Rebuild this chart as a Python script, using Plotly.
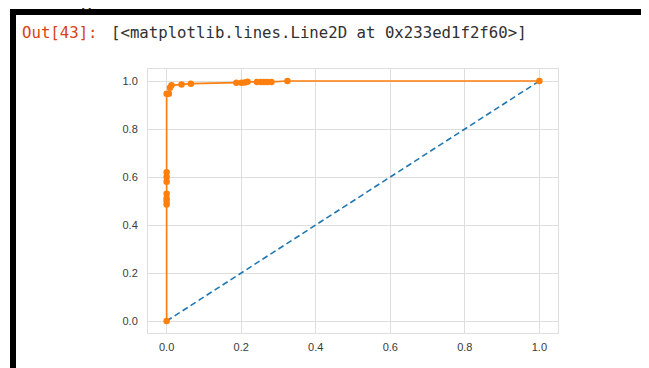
import plotly.graph_objects as go

# ROC curve data
fpr = [0.0, 0.0, 0.0, 0.0, 0.0, 0.0, 0.0, 0.0, 0.0, 0.006, 0.009, 0.013, 0.04, 0.065,
       0.187, 0.201, 0.21, 0.217, 0.242, 0.253, 0.261, 0.27, 0.281, 0.324, 1.0]
tpr = [0.0, 0.485, 0.50, 0.51, 0.53, 0.58, 0.60, 0.62, 0.947, 0.947, 0.972, 0.982, 0.985, 0.989,
       0.993, 0.993, 0.994, 0.997, 0.996, 0.996, 0.996, 0.996, 0.996, 1.0, 1.0]
diag = [0.0, 1.0]
tick_vals = [0.0, 0.2, 0.4, 0.6, 0.8, 1.0]
tick_text = ["0.0", "0.2", "0.4", "0.6", "0.8", "1.0"]
out_prompt = "Out[43]:"
out_text = "[<matplotlib.lines.Line2D at 0x233ed1f2f60>]"

W, H = 649, 368
OFF = 8  # page body margin of the browser
L, R, T, B = 148 - OFF, 558 - OFF, 69 - OFF, 333 - OFF  # plot area in figure pixels


def px(x):
    return (x - OFF - L) / (R - L)


def py(y):
    return (B - (y - OFF)) / (B - T)


fig = go.Figure()
fig.add_trace(go.Scatter(x=diag, y=diag, mode="lines",
                         line=dict(color="#1f77b4", width=1.6, dash="6px,3.5px"),
                         showlegend=False, hoverinfo="skip"))
fig.add_trace(go.Scatter(x=fpr, y=tpr, mode="lines+markers",
                         line=dict(color="#ff7f0e", width=1.7),
                         marker=dict(color="#ff7f0e", size=6.5),
                         showlegend=False))

grid = "#dedede"
axis_common = dict(tickvals=tick_vals, ticktext=tick_text, range=[-0.05, 1.05],
                   showgrid=True, gridcolor=grid, gridwidth=1, zeroline=False,
                   showline=True, linecolor=grid, linewidth=1, mirror=True,
                   ticks="", tickfont=dict(family="Liberation Sans", size=11, color="#3a3a3a"))

fig.update_layout(
    width=W, height=H,
    margin=dict(l=L, r=W - R, t=T, b=H - B),
    paper_bgcolor="white", plot_bgcolor="white",
    xaxis=dict(**axis_common, ticklabelstandoff=4),
    yaxis=dict(**axis_common, ticklabelstandoff=7),
    shapes=[
        dict(type="rect", xref="paper", yref="paper", x0=px(10), x1=px(W + 20),
             y0=py(15), y1=py(9), fillcolor="black", line=dict(width=0), layer="above"),
        dict(type="rect", xref="paper", yref="paper", x0=px(10), x1=px(16),
             y0=py(H + 20), y1=py(9), fillcolor="black", line=dict(width=0), layer="above"),
    ],
    annotations=[
        dict(text=out_prompt, xref="paper", yref="paper", x=px(20), y=py(32),
             xanchor="left", yanchor="middle", showarrow=False,
             font=dict(family="DejaVu Sans Mono", size=15.7, color="#D84315")),
        dict(text=out_text, xref="paper", yref="paper", x=px(109), y=py(32),
             xanchor="left", yanchor="middle", showarrow=False,
             font=dict(family="DejaVu Sans Mono", size=15.7, color="#303030")),
        dict(text="g", xref="paper", yref="paper", x=px(79), y=py(11.5),
             xanchor="left", yanchor="bottom", showarrow=False,
             font=dict(family="Liberation Serif", size=22, color="#222")),
    ],
)

fig.write_html("out.html")
